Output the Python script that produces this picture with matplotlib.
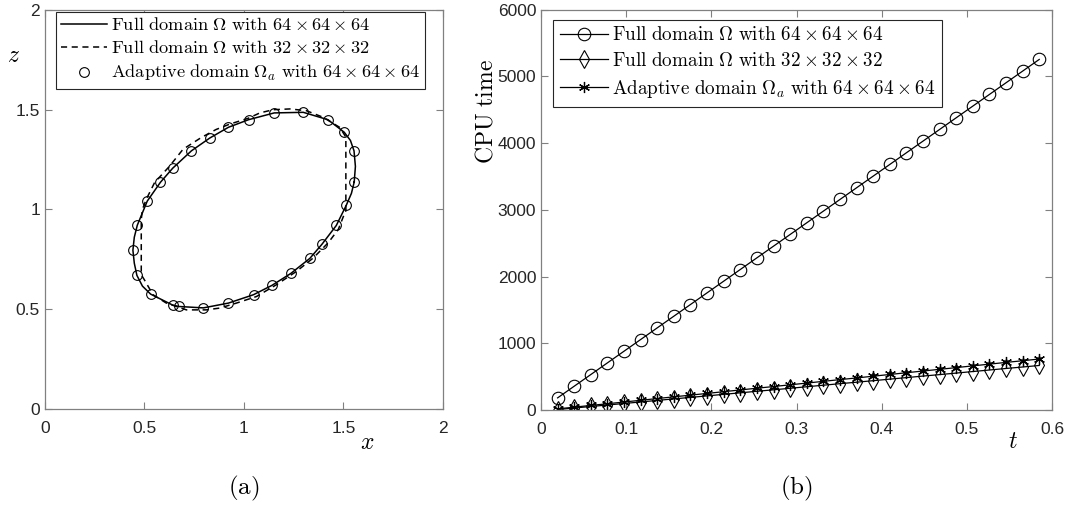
import matplotlib.pyplot as plt

plt.rcParams['mathtext.fontset'] = 'cm'
plt.rcParams['font.family'] = ['Liberation Sans', 'DejaVu Sans']

# interface at the final time, full domain 64^3 (solid line)
x64 = [1.554, 1.560, 1.553, 1.535, 1.504, 1.422, 1.298, 1.152, 1.023, 0.922, 0.828,
       0.736, 0.642, 0.580, 0.514, 0.464, 0.449, 0.442, 0.449, 0.462, 0.490, 0.531,
       0.642, 0.673, 0.796, 0.922, 1.048, 1.141, 1.236, 1.331, 1.392, 1.464, 1.514,
       1.540, 1.554]
z64 = [1.137, 1.215, 1.293, 1.345, 1.386, 1.449, 1.486, 1.483, 1.449, 1.411, 1.357,
       1.293, 1.206, 1.135, 1.041, 0.920, 0.860, 0.795, 0.730, 0.669, 0.615, 0.575,
       0.520, 0.513, 0.506, 0.530, 0.572, 0.619, 0.679, 0.754, 0.825, 0.919, 1.020,
       1.080, 1.137]

# full domain 32^3 (dashed line)
x32 = [1.512, 1.512, 1.512, 1.512, 1.482, 1.398, 1.314, 1.231, 1.146, 1.080, 1.021,
       0.929, 0.860, 0.786, 0.694, 0.627, 0.551, 0.509, 0.490, 0.484, 0.484, 0.500,
       0.543, 0.610, 0.711, 0.811, 0.878, 0.962, 1.063, 1.163, 1.264, 1.348, 1.423,
       1.474, 1.507, 1.512]
z32 = [0.990, 1.050, 1.200, 1.362, 1.410, 1.461, 1.494, 1.503, 1.499, 1.483, 1.456,
       1.427, 1.400, 1.360, 1.301, 1.217, 1.134, 1.050, 1.000, 0.950, 0.672, 0.646,
       0.572, 0.530, 0.496, 0.496, 0.505, 0.530, 0.563, 0.622, 0.689, 0.756, 0.832,
       0.899, 0.983, 0.990]

# adaptive domain 64^3 (circles)
xa = [1.554, 1.553, 1.504, 1.422, 1.298, 1.152, 1.023, 0.922, 0.828, 0.736, 0.642,
      0.580, 0.514, 0.464, 0.442, 0.462, 0.531, 0.642, 0.673, 0.796, 0.922, 1.048,
      1.141, 1.236, 1.331, 1.392, 1.464, 1.514]
za = [1.137, 1.293, 1.386, 1.449, 1.486, 1.483, 1.449, 1.411, 1.357, 1.293, 1.206,
      1.135, 1.041, 0.920, 0.795, 0.669, 0.575, 0.520, 0.513, 0.506, 0.530, 0.572,
      0.619, 0.679, 0.754, 0.825, 0.919, 1.020]

# CPU time against t
t = [0.0195, 0.039, 0.0585, 0.078, 0.0975, 0.117, 0.1365, 0.156, 0.1755, 0.195,
     0.2145, 0.234, 0.2535, 0.273, 0.2925, 0.312, 0.3315, 0.351, 0.3705, 0.39,
     0.4095, 0.429, 0.4485, 0.468, 0.4875, 0.507, 0.5265, 0.546, 0.5655, 0.585]
cpu_full64 = [180, 355, 530, 705, 880, 1055, 1230, 1405, 1580, 1755,
              1930, 2105, 2280, 2455, 2630, 2805, 2980, 3155, 3330, 3505,
              3680, 3855, 4030, 4205, 4380, 4555, 4730, 4905, 5080, 5255]
cpu_full32 = [5, 28, 51, 73, 96, 119, 142, 165, 187, 210,
              233, 256, 279, 301, 324, 347, 370, 393, 415, 438,
              461, 484, 507, 529, 552, 575, 598, 621, 643, 666]
cpu_adapt = [15, 41, 67, 92, 118, 144, 170, 196, 221, 247,
             273, 299, 325, 350, 376, 402, 428, 454, 479, 505,
             531, 557, 583, 608, 634, 660, 686, 712, 737, 763]

lab64 = r'$\mathrm{Full\ domain\ }\Omega\mathrm{\ with\ }64\times 64\times 64$'
lab32 = r'$\mathrm{Full\ domain\ }\Omega\mathrm{\ with\ }32\times 32\times 32$'
laba = r'$\mathrm{Adaptive\ domain\ }\Omega_a\mathrm{\ with\ }64\times 64\times 64$'

fig = plt.figure(figsize=(10.7, 5.13), dpi=100)
ax1 = fig.add_axes([0.042, 0.203, 0.372, 0.778])
ax2 = fig.add_axes([0.5056, 0.201, 0.4776, 0.780])


def style(ax):
    for s in ax.spines.values():
        s.set_color('#808080')
        s.set_linewidth(0.9)
    ax.tick_params(direction='in', top=True, right=True, length=5,
                   color='#808080', labelcolor='#262626', labelsize=12.5)
    ax.tick_params(axis='x', pad=9)


# (a) interface shapes
ax1.plot(x64, z64, '-', color='k', lw=1.1, label=lab64)
ax1.plot(x32, z32, '--', color='k', lw=1.1, dashes=(4, 3), label=lab32)
ax1.plot(xa, za, 'o', color='k', mfc='none', ms=7, mew=0.8, label=laba)
ax1.set_xlim(0, 2)
ax1.set_ylim(0, 2)
ax1.set_xticks([0, 0.5, 1, 1.5, 2])
ax1.set_yticks([0, 0.5, 1, 1.5, 2])
ax1.set_xticklabels(['0', '0.5', '1', '1.5', '2'])
ax1.set_yticklabels(['0', '0.5', '1', '1.5', '2'])
style(ax1)
ax1.text(1.62, -0.17, r'$x$', fontsize=17, ha='center', va='center')
ax1.text(-0.16, 1.77, r'$z$', fontsize=17, ha='center', va='center')
ax1.text(1.0, -0.40, r'$\mathrm{(a)}$', fontsize=18, ha='center', va='center')
leg1 = ax1.legend(loc='upper left', bbox_to_anchor=(0.027, 0.995), fontsize=13.2,
                  fancybox=False, edgecolor='#262626', framealpha=1,
                  handlelength=2.5, handletextpad=0.2, borderpad=0.3,
                  labelspacing=0.32, borderaxespad=0)
leg1.get_frame().set_linewidth(0.8)

# (b) CPU time
ax2.plot(t, cpu_full64, '-o', color='k', lw=0.9, mfc='none', ms=9, mew=0.8, label=lab64)
ax2.plot(t, cpu_full32, '-d', color='k', lw=0.9, mfc='none', ms=9, mew=0.8, label=lab32)
ax2.plot(t, cpu_adapt, '-', marker=(6, 2, 0), color='k', lw=0.9, ms=8, mew=0.9,
         label=laba)
ax2.set_xlim(0, 0.6)
ax2.set_ylim(0, 6000)
ax2.set_xticks([0, 0.1, 0.2, 0.3, 0.4, 0.5, 0.6])
ax2.set_xticklabels(['0', '0.1', '0.2', '0.3', '0.4', '0.5', '0.6'])
ax2.set_yticks(range(0, 6001, 1000))
style(ax2)
ax2.text(0.554, -480, r'$t$', fontsize=17, ha='center', va='center')
ax2.set_ylabel(r'$\mathrm{CPU\ time}$', fontsize=17, labelpad=6)
ax2.yaxis.set_label_coords(-0.085, 0.745)
ax2.text(0.30, -1180, r'$\mathrm{(b)}$', fontsize=18, ha='center', va='center')
leg2 = ax2.legend(loc='upper left', bbox_to_anchor=(0.024, 0.975), fontsize=13.8,
                  fancybox=False, edgecolor='#262626', framealpha=1, numpoints=1,
                  handlelength=2.5, handletextpad=0.2, borderpad=0.35,
                  labelspacing=0.4, borderaxespad=0)
leg2.get_frame().set_linewidth(0.8)

fig.savefig('out.png', dpi=100, facecolor='white')
